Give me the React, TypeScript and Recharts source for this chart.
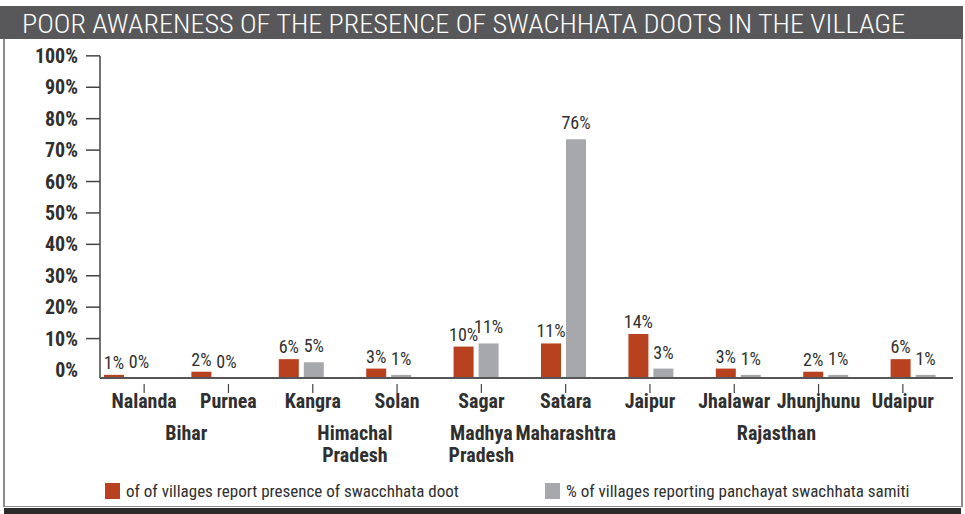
import React from "react";
import {
  BarChart,
  Bar,
  XAxis,
  YAxis,
  LabelList,
  ReferenceArea,
} from "recharts";

const categories = [
  "Nalanda",
  "Purnea",
  "Kangra",
  "Solan",
  "Sagar",
  "Satara",
  "Jaipur",
  "Jhalawar",
  "Jhunjhunu",
  "Udaipur",
];
const dootValues = [1, 2, 6, 3, 10, 11, 14, 3, 2, 6];
const samitiValues = [0, 0, 5, 1, 11, 76, 3, 1, 1, 1];
const yTicks = [0, 10, 20, 30, 40, 50, 60, 70, 80, 90, 100];
const states = [
  { lines: ["Bihar"], from: "Nalanda", to: "Purnea" },
  { lines: ["Himachal", "Pradesh"], from: "Kangra", to: "Solan" },
  { lines: ["Madhya", "Pradesh"], from: "Sagar", to: "Sagar" },
  { lines: ["Maharashtra"], from: "Satara", to: "Satara" },
  { lines: ["Rajasthan"], from: "Jaipur", to: "Udaipur" },
];

const TITLE = "POOR AWARENESS OF THE PRESENCE OF SWACHHATA DOOTS IN THE VILLAGE";
const DOOT_NAME = "of of villages report presence of swacchhata doot";
const SAMITI_NAME = "% of villages reporting panchayat swachhata samiti";

const RED = "#b8421f";
const GREY = "#a7a8ac";
const TEXT = "#2f2f2f";
const FONT = "'Roboto Condensed', Roboto, sans-serif";

const data = categories.map((name, i) => ({
  name,
  doot: dootValues[i],
  samiti: samitiValues[i],
}));

// y labels sit a little above the value they mark, as in the print original
const YTick = (props: any) => {
  const { x, y, payload } = props;
  const ty = y - 8;
  return (
    <g>
      {payload.value !== 0 && (
        <line x1={x - 14} x2={x} y1={ty} y2={ty} stroke="#444" strokeWidth={1.5} />
      )}
      <text
        x={x - 22}
        y={ty}
        textAnchor="end"
        dominantBaseline="central"
        fontFamily={FONT}
        fontWeight={700}
        fontSize={20}
        fill={TEXT}
      >
        {payload.value}%
      </text>
    </g>
  );
};

const XTick = (props: any) => {
  const { x, y, payload } = props;
  return (
    <g>
      <line x1={x} x2={x} y1={y + 6} y2={y + 15} stroke="#444" strokeWidth={1.2} />
      <text
        x={x}
        y={y + 23}
        textAnchor="middle"
        dominantBaseline="central"
        fontFamily={FONT}
        fontWeight={700}
        fontSize={20}
        fill={TEXT}
      >
        {payload.value}
      </text>
    </g>
  );
};

const StateLabel = (props: any) => {
  const { viewBox, lines } = props;
  if (!viewBox) return null;
  const cx = viewBox.x + viewBox.width / 2;
  const top = viewBox.y + viewBox.height + 55;
  return (
    <g>
      {lines.map((t: string, i: number) => (
        <text
          key={t}
          x={cx}
          y={top + i * 22}
          textAnchor="middle"
          dominantBaseline="central"
          fontFamily={FONT}
          fontWeight={700}
          fontSize={20}
          fill={TEXT}
        >
          {t}
        </text>
      ))}
    </g>
  );
};

export default function App() {
  return (
    <div style={{ position: "relative", width: 965, height: 514, background: "#fff" }}>
      <style>{"body{margin:0}"}</style>
      {/* title bar */}
      <div
        style={{
          position: "absolute",
          left: 0,
          top: 6,
          width: 963,
          height: 33,
          background: "#58585a",
        }}
      >
        <svg width={963} height={33}>
          <text
            x={22}
            y={18}
            dominantBaseline="central"
            fill="#fff"
            fontFamily={FONT}
            fontWeight={300}
            fontSize={26}
            textLength={883}
            lengthAdjust="spacingAndGlyphs"
          >
            {TITLE}
          </text>
        </svg>
      </div>
      {/* frame */}
      <div
        style={{
          position: "absolute",
          left: 3,
          top: 39,
          width: 956,
          height: 467,
          borderLeft: "2px solid #8c8c8c",
          borderRight: "2px solid #8c8c8c",
          borderBottom: "1.5px solid #8c8c8c",
        }}
      />
      <div
        style={{
          position: "absolute",
          left: 4,
          top: 508,
          width: 957,
          height: 6,
          background: "#2a2a2a",
        }}
      />

      <div style={{ position: "absolute", left: 0, top: 0 }}>
        <BarChart
          width={965}
          height={514}
          data={data}
          margin={{ top: 56, right: 12, bottom: 66, left: 0 }}
          barSize={20}
          barGap={5}
        >
          <XAxis
            xAxisId="bars"
            dataKey="name"
            hide
            height={0}
            padding={{ left: -17, right: -4 }}
          />
          <XAxis
            xAxisId="labels"
            dataKey="name"
            height={70}
            padding={{ left: 2, right: 8 }}
            axisLine={{ stroke: "#555", strokeWidth: 2 }}
            tickLine={false}
            tickSize={0}
            tickMargin={0}
            interval={0}
            tick={<XTick />}
          />
          <YAxis
            domain={[0, 102.5]}
            ticks={yTicks}
            width={100}
            axisLine={{ stroke: "#444", strokeWidth: 1.5 }}
            tickLine={false}
            tickSize={0}
            tickMargin={0}
            interval={0}
            tick={<YTick />}
          />
          {states.map((s) => (
            <ReferenceArea
              key={s.lines.join(" ")}
              xAxisId="labels"
              x1={s.from}
              x2={s.to}
              fill="none"
              fillOpacity={0}
              stroke="none"
              label={<StateLabel lines={s.lines} />}
            />
          ))}
          <Bar
            xAxisId="bars"
            dataKey="doot"
            name={DOOT_NAME}
            fill={RED}
            minPointSize={0.5}
            isAnimationActive={false}
          >
            <LabelList
              dataKey="doot"
              position="top"
              offset={6}
              formatter={(v: any) => `${v}%`}
              style={{ fontFamily: FONT, fontSize: 18, fill: TEXT }}
            />
          </Bar>
          <Bar
            xAxisId="bars"
            dataKey="samiti"
            name={SAMITI_NAME}
            fill={GREY}
            minPointSize={0.5}
            isAnimationActive={false}
          >
            <LabelList
              dataKey="samiti"
              position="top"
              offset={10}
              formatter={(v: any) => `${v}%`}
              style={{ fontFamily: FONT, fontSize: 18, fill: TEXT }}
            />
          </Bar>
        </BarChart>
      </div>

      {/* legend */}
      {[
        { name: DOOT_NAME, color: RED, left: 105 },
        { name: SAMITI_NAME, color: GREY, left: 545 },
      ].map((item) => (
        <div
          key={item.name}
          style={{
            position: "absolute",
            left: item.left,
            top: 483,
            display: "flex",
            alignItems: "center",
            height: 16,
            fontFamily: FONT,
            fontSize: 17,
            color: TEXT,
            whiteSpace: "nowrap",
          }}
        >
          <span
            style={{
              display: "inline-block",
              width: 15,
              height: 16,
              background: item.color,
              marginRight: 6,
            }}
          />
          {item.name}
        </div>
      ))}
    </div>
  );
}
